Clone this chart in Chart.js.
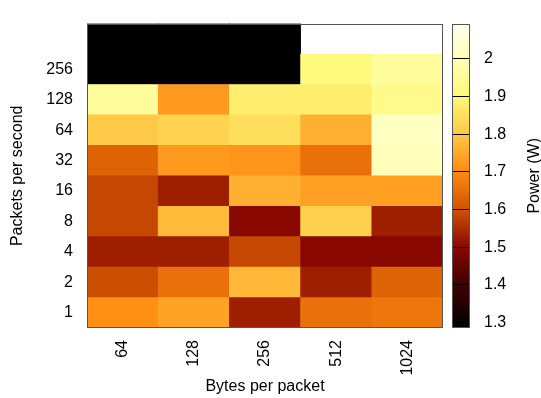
<!DOCTYPE html>
<html>
<head>
<meta charset="utf-8">
<title>Power heatmap</title>
<script src="https://cdn.jsdelivr.net/npm/chart.js@4.4.1/dist/chart.umd.min.js"></script>
<style>
  html, body { margin: 0; padding: 0; background: #fff; }
  #wrap { position: relative; width: 541px; height: 398px; overflow: hidden; }
  #heat { position: absolute; left: 0; top: 0; }
  #cbar { position: absolute; left: 440px; top: 0; }
</style>
</head>
<body>
<div id="wrap">
  <canvas id="heat" width="541" height="398"></canvas>
  <canvas id="cbar" width="101" height="398"></canvas>
</div>
<script>
// columns (x) and rows (y, bottom to top; top row has no label)
var BYTES = ['64', '128', '256', '512', '1024'];
var PPS = ['1', '2', '4', '8', '16', '32', '64', '128', '256', ''];

// power in W per row, one value per column; null = no measurement
var P1   = [1.71, 1.74, 1.53, 1.655, 1.665];
var P2   = [1.595, 1.655, 1.775, 1.53, 1.63];
var P4   = [1.53, 1.53, 1.585, 1.50, 1.50];
var P8   = [1.585, 1.778, 1.50, 1.817, 1.53];
var P16  = [1.585, 1.53, 1.762, 1.735, 1.735];
var P32  = [1.63, 1.726, 1.718, 1.655, 2.01];
var P64  = [1.804, 1.82, 1.845, 1.762, 2.02];
var P128 = [1.96, 1.726, 1.88, 1.88, 1.93];
var P256 = [0, 0, 0, 1.91, 1.96];
var PTOP = [0, 0, 0, null, null];
var ROWS = [P1, P2, P4, P8, P16, P32, P64, P128, P256, PTOP];

// colour scale
var CB_MIN = 1.285;
var CB_MAX = 2.094;
var CB_TICKS = [1.3, 1.4, 1.5, 1.6, 1.7, 1.8, 1.9, 2.0];
var PAL_VALUES = [1.285, 1.4, 1.5, 1.6, 1.7, 1.8, 1.9, 2.0, 2.094];
var PAL_COLORS = ['#000000', '#400000', '#880800', '#d05200', '#ff8a10',
                  '#ffc845', '#fff878', '#ffffb4', '#fffff2'];

var FONT = { family: "'Liberation Sans', Arial, sans-serif", size: 16 };

function hexRgb(h) {
  return [parseInt(h.substr(1, 2), 16), parseInt(h.substr(3, 2), 16), parseInt(h.substr(5, 2), 16)];
}

function colorFor(v) {
  if (v === null) return 'rgba(0,0,0,0)';
  if (v <= PAL_VALUES[0]) return PAL_COLORS[0];
  var n = PAL_VALUES.length;
  if (v >= PAL_VALUES[n - 1]) return PAL_COLORS[n - 1];
  for (var i = 1; i < n; i++) {
    if (v <= PAL_VALUES[i]) {
      var t = (v - PAL_VALUES[i - 1]) / (PAL_VALUES[i] - PAL_VALUES[i - 1]);
      var a = hexRgb(PAL_COLORS[i - 1]), b = hexRgb(PAL_COLORS[i]);
      var c = a.map(function (x, k) { return Math.round(x + (b[k] - x) * t); });
      return 'rgb(' + c.join(',') + ')';
    }
  }
}

var frame = {
  id: 'frame',
  afterDraw: function (chart) {
    var a = chart.chartArea, ctx = chart.ctx;
    ctx.save();
    ctx.strokeStyle = '#555';
    ctx.lineWidth = 1;
    ctx.strokeRect(Math.round(a.left) + 0.5, Math.round(a.top) + 0.5,
      Math.round(a.right - a.left) - 1, Math.round(a.bottom - a.top) - 1);
    ctx.restore();
  }
};

var heatDatasets = ROWS.map(function (row, i) {
  return {
    label: PPS[i],
    data: row.map(function () { return 1; }),
    backgroundColor: row.map(colorFor),
    borderWidth: 0,
    barPercentage: 1,
    categoryPercentage: 1
  };
});

new Chart(document.getElementById('heat'), {
  type: 'bar',
  data: { labels: BYTES, datasets: heatDatasets },
  options: {
    responsive: false,
    animation: false,
    layout: { padding: { left: 0, right: 98, top: 5, bottom: 0 } },
    plugins: { legend: { display: false }, tooltip: { enabled: false } },
    scales: {
      x: {
        stacked: true,
        grid: { display: false, drawTicks: false },
        border: { display: false },
        ticks: { minRotation: 90, maxRotation: 90, padding: 12, color: '#000', font: FONT },
        title: { display: true, text: 'Bytes per packet', color: '#000', font: FONT, padding: { top: 0, bottom: 2 } },
        afterFit: function (scale) { scale.height = 70; }
      },
      y: {
        stacked: true,
        min: 0,
        max: PPS.length,
        grid: { display: false, drawTicks: false },
        border: { display: false },
        afterBuildTicks: function (scale) {
          var t = [];
          PPS.forEach(function (lab, i) { if (lab !== '') t.push({ value: i + 0.5 }); });
          scale.ticks = t;
        },
        ticks: {
          autoSkip: false, padding: 14, color: '#000', font: FONT,
          callback: function (v) { return PPS[Math.floor(v)]; }
        },
        title: { display: true, text: 'Packets per second', color: '#000', font: FONT, padding: { top: 8, bottom: 0 } },
        afterFit: function (scale) { scale.width = 87; }
      }
    }
  },
  plugins: [frame]
});

function gradientFill(ctx) {
  var chart = ctx.chart;
  if (!chart.chartArea) return null;
  var y = chart.scales.y;
  var g = chart.ctx.createLinearGradient(0, y.getPixelForValue(CB_MIN), 0, y.getPixelForValue(CB_MAX));
  PAL_VALUES.forEach(function (v, i) {
    g.addColorStop((v - CB_MIN) / (CB_MAX - CB_MIN), PAL_COLORS[i]);
  });
  return g;
}

var cbTitle = {
  id: 'cbTitle',
  afterDraw: function (chart) {
    var a = chart.chartArea, ctx = chart.ctx;
    ctx.save();
    ctx.translate(95, (a.top + a.bottom) / 2);
    ctx.rotate(-Math.PI / 2);
    ctx.font = FONT.size + 'px ' + FONT.family;
    ctx.fillStyle = '#000';
    ctx.textAlign = 'center';
    ctx.textBaseline = 'middle';
    ctx.fillText('Power (W)', 0, 0);
    ctx.restore();
  }
};

new Chart(document.getElementById('cbar'), {
  type: 'bar',
  data: {
    labels: [''],
    datasets: [{
      data: [[CB_MIN, CB_MAX]],
      backgroundColor: gradientFill,
      borderWidth: 0,
      barPercentage: 1,
      categoryPercentage: 1
    }]
  },
  options: {
    responsive: false,
    animation: false,
    layout: { padding: { left: 12, right: 0, top: 5, bottom: 70 } },
    plugins: { legend: { display: false }, tooltip: { enabled: false } },
    scales: {
      x: { display: false },
      y: {
        position: 'right',
        min: CB_MIN,
        max: CB_MAX,
        grid: { display: true, drawOnChartArea: true, drawTicks: false, color: '#000', lineWidth: 1, z: 1 },
        border: { display: false },
        afterBuildTicks: function (scale) {
          scale.ticks = CB_TICKS.map(function (v) { return { value: v }; });
        },
        ticks: {
          autoSkip: false, padding: 14, color: '#000', font: FONT,
          callback: function (v) { return String(Math.round(v * 10) / 10); }
        },
        afterFit: function (scale) { scale.width = 71; }
      }
    }
  },
  plugins: [frame, cbTitle]
});
</script>
</body>
</html>
